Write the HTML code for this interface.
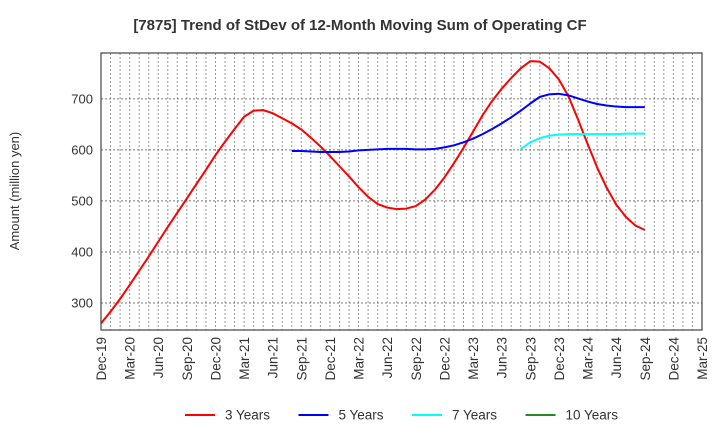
<!DOCTYPE html>
<html><head><meta charset="utf-8"><style>
body{margin:0;background:#fff}
svg{display:block;font-family:"Liberation Sans",Arial,sans-serif}
</style></head><body>
<svg id="c" width="720" height="440">
<text x="360" y="30" text-anchor="middle" font-size="15" font-weight="bold" fill="#333">[7875]  Trend of StDev of 12-Month Moving Sum of Operating CF</text>
<text transform="translate(19,191) rotate(-90)" text-anchor="middle" font-size="13" fill="#333">Amount (million yen)</text>
<g id="grid"></g>
<g id="series"></g>
<rect x="101" y="53" width="601" height="277" fill="none" stroke="#444" stroke-width="1.2"/>
<g id="ticks"></g>
<g id="legend"></g>
</svg>
<script>
const yTicks=[300,400,500,600,700];
const xLabels=["Dec-19","Mar-20","Jun-20","Sep-20","Dec-20","Mar-21","Jun-21","Sep-21","Dec-21","Mar-22","Jun-22","Sep-22","Dec-22","Mar-23","Jun-23","Sep-23","Dec-23","Mar-24","Jun-24","Sep-24","Dec-24","Mar-25"];
const seriesNames=["3 Years","5 Years","7 Years","10 Years"];
const seriesColors=["#ff0000","#0000ff","#00ffff","#228b22"];
const red=[260,283,308,335,363,391,420,449,477,505,533,561,590,616,641,665,677,678,672,662,652,640,624,607,588,568,548,527,508,494,487,484,485,490,503,522,546,574,604,636,668,696,720,741,760,774,773,760,738,705,660,612,566,526,493,469,452,443];
const redStart=0;
const blue=[598,598,597,596,596,596,597,599,600,601,602,602,602,601,601,602,605,609,615,622,631,641,652,664,677,691,704,709,710,707,701,695,690,687,685,684,684,684];
const blueStart=20;
const cyan=[602,615,623,628,630,631,631,631,631,631,631,632,632,632];
const cyanStart=44;
const green=[];
const greenStart=0;
const NS="http://www.w3.org/2000/svg";
const L=101,R=702,T=53,B=330,months=63;
const ymin=247,ymax=790;
const X=m=>L+(R-L)*m/months;
const Y=v=>B-(B-T)*(v-ymin)/(ymax-ymin);
function mk(tag,attrs,parent){const e=document.createElementNS(NS,tag);for(const k in attrs)e.setAttribute(k,attrs[k]);parent.appendChild(e);return e;}
const grid=document.getElementById('grid'),ticks=document.getElementById('ticks');
for(let m=1;m<months;m++){const l=mk('line',{x1:X(m),x2:X(m),y1:T,y2:B,stroke:'#999','stroke-dasharray':'2,2','stroke-width':1},grid);

}
yTicks.forEach(v=>{const l=mk('line',{x1:L,x2:R,y1:Y(v),y2:Y(v),stroke:'#777','stroke-dasharray':'2,2','stroke-width':1},grid);


const t=mk('text',{x:L-8,y:Y(v)+4.5,'text-anchor':'end','font-size':13,fill:'#333'},ticks);t.textContent=v;

});
xLabels.forEach((s,i)=>{const x=X(i*3);const t=mk('text',{transform:`translate(${x+5},337) rotate(-90)`,'text-anchor':'end','font-size':13.5,fill:'#333'},ticks);t.textContent=s;

});
const sg=document.getElementById('series');
[[red,redStart],[blue,blueStart],[cyan,cyanStart],[green,greenStart]].forEach((d,si)=>{if(!d[0].length)return;
const pts=d[0].map((v,i)=>X(d[1]+i).toFixed(2)+','+Y(v).toFixed(2)).join(' ');
const p=mk('polyline',{points:pts,fill:'none',stroke:seriesColors[si],'stroke-width':2,'stroke-linejoin':'round'},sg);

});
const lg=document.getElementById('legend');
seriesNames.forEach((n,i)=>{const x0=185+i*113.5;
const g=mk('g',{},lg);


mk('line',{x1:x0,x2:x0+30,y1:415,y2:415,stroke:seriesColors[i],'stroke-width':2},g);
const t=mk('text',{x:x0+40,y:419.5,'font-size':13.5,fill:'#333'},g);t.textContent=n;});
</script>
</body></html>
